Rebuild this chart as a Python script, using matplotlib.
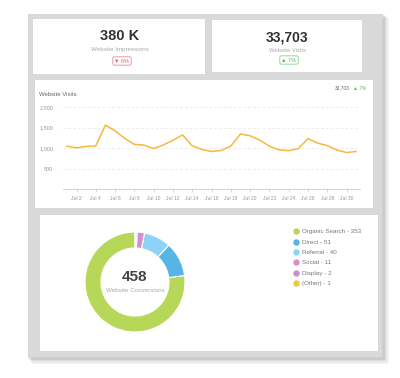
import matplotlib
matplotlib.use('Agg')
import matplotlib.pyplot as plt
from matplotlib.patches import Rectangle
from matplotlib.lines import Line2D

plt.rcParams['font.family'] = ['Liberation Sans', 'DejaVu Sans']

W, H = 400, 378

# ---- data ----
impressions_value = "380 K"
impressions_label = "Website Impressions"
impressions_change = "▼ 6%"
visits_value = "33,703"
visits_label = "Website Visits"
visits_change = "▲ 7%"

chart_title = "Website Visits"
chart_total = "33,703"
chart_change = "▲ 7%"

days = list(range(1, 32))
visits = [1045, 1005, 1040, 1050, 1560, 1420, 1235, 1090, 1070, 985, 1075,
          1190, 1320, 1055, 965, 915, 940, 1045, 1340, 1300, 1195, 1045,
          955, 935, 985, 1230, 1120, 1060, 950, 890, 915]
x_tick_days = [2, 4, 6, 8, 10, 12, 14, 16, 18, 20, 22, 24, 26, 28, 30]
x_tick_labels = ["Jul 2", "Jul 4", "Jul 6", "Jul 8", "Jul 10", "Jul 12",
                 "Jul 14", "Jul 16", "Jul 18", "Jul 20", "Jul 22", "Jul 24",
                 "Jul 26", "Jul 28", "Jul 30"]
y_ticks = [500, 1000, 1500, 2000]
y_tick_labels = ["500", "1,000", "1,500", "2,000"]

channels = ["Organic Search", "Direct", "Referral", "Social", "Display", "(Other)"]
conversions = [353, 51, 40, 11, 2, 1]
channel_colors = ["#b6d758", "#55b5e3", "#8dd3f8", "#d78fc9", "#cf8bd0", "#f3c63b"]
total_conversions = "458"
conversions_label = "Website Conversions"

# ---- figure ----
fig = plt.figure(figsize=(4, 3.78), dpi=100)
fig.patch.set_facecolor('white')


def box(x0, y0, x1, y1):
    return (x0 / W, 1 - y1 / H, (x1 - x0) / W, (y1 - y0) / H)


def rect(x0, y0, x1, y1, **kw):
    l, b, w, h = box(x0, y0, x1, y1)
    fig.patches.append(Rectangle((l, b), w, h, transform=fig.transFigure, **kw))


def ftext(x, y, s, **kw):
    fig.text(x / W, 1 - y / H, s, **kw)


# shadow of dashboard frame
for i, a in enumerate([0.05, 0.07, 0.09, 0.12]):
    o = 7 - i * 1.5
    rect(28 + o * 0.5, 14 + o * 0.5, 382 + o, 357 + o, facecolor='#555555',
         alpha=a, edgecolor='none', zorder=0)
rect(28, 14, 382, 357, facecolor='#d9d9d9', edgecolor='#cfcfcf', lw=0.5, zorder=1)

# cards
rect(33, 19, 205, 74, facecolor='white', edgecolor='none', zorder=2)
rect(212, 20, 362, 72, facecolor='white', edgecolor='none', zorder=2)
rect(35, 80, 373, 208, facecolor='white', edgecolor='none', zorder=2)
rect(40, 215, 378, 351, facecolor='white', edgecolor='none', zorder=2)

# KPI 1
ftext(120, 36, impressions_value, ha='center', va='center', fontsize=10.5,
      fontweight='bold', color='#333333', zorder=5)
ftext(120, 50, impressions_label, ha='center', va='center', fontsize=4.5,
      color='#aaaaaa', zorder=5)
ftext(122, 61, impressions_change, ha='center', va='center', fontsize=4,
      color='#e0606a', zorder=5,
      bbox=dict(boxstyle='round,pad=0.3,rounding_size=0.3', fc='white',
                ec='#e58a90', lw=0.6))

# KPI 2
ftext(287, 37, visits_value, ha='center', va='center', fontsize=10,
      fontweight='bold', color='#333333', zorder=5)
ftext(288, 50, visits_label, ha='center', va='center', fontsize=4.2,
      color='#aaaaaa', zorder=5)
ftext(289, 60, visits_change, ha='center', va='center', fontsize=4,
      color='#5cb85c', zorder=5,
      bbox=dict(boxstyle='round,pad=0.3,rounding_size=0.3', fc='white',
                ec='#8fd08f', lw=0.6))

# line chart
ftext(39, 95, chart_title, ha='left', va='center', fontsize=4.3,
      color='#666666', zorder=5)
ftext(350, 88, chart_total, ha='right', va='center', fontsize=3.5,
      color='#666666', zorder=5)
ftext(353, 88, chart_change, ha='left', va='center', fontsize=3.5,
      color='#5cb85c', zorder=5)

ax = fig.add_axes(box(63, 105, 360, 189))
ax.set_zorder(3)
ax.patch.set_alpha(0)
ax.plot(days, visits, color='#f5b93e', lw=1.1, solid_joinstyle='round')
ax.set_xlim(0.6, 31.4)
ax.set_ylim(0, 2050)
ax.set_yticks(y_ticks)
ax.set_yticklabels(y_tick_labels)
ax.set_xticks(x_tick_days)
ax.set_xticklabels(x_tick_labels)
ax.grid(axis='y', color='#e4e4e4', lw=0.5, ls=(0, (4, 3)))
ax.tick_params(axis='y', length=0, labelsize=4, labelcolor='#999999', pad=7)
ax.tick_params(axis='x', length=2, width=0.5, color='#cccccc', labelsize=3.6,
               labelcolor='#999999', pad=3)
for s in ['top', 'right', 'left']:
    ax.spines[s].set_visible(False)
ax.spines['bottom'].set_color('#cccccc')
ax.spines['bottom'].set_linewidth(0.6)

# donut
pax = fig.add_axes(box(85, 232, 185, 332))
pax.set_zorder(3)
pax.pie(conversions, colors=channel_colors, startangle=90, counterclock=True,
        wedgeprops=dict(width=0.32, edgecolor='white', linewidth=0.8))
pax.set_xlim(-1, 1)
pax.set_ylim(-1, 1)
pax.set_aspect('equal')
pax.axis('off')
ftext(135, 277, total_conversions, ha='center', va='center', fontsize=11,
      fontweight='bold', color='#444444', zorder=6)
ftext(135, 290, conversions_label, ha='center', va='center', fontsize=4.5,
      color='#aaaaaa', zorder=6)

handles = [Line2D([], [], marker='o', ls='', markersize=3.6,
                  markerfacecolor=c, markeredgecolor=c) for c in channel_colors]
labels = [f"{n} - {v}" for n, v in zip(channels, conversions)]
leg = fig.legend(handles, labels, loc='upper left',
                 bbox_to_anchor=(294 / W, 1 - 229 / H), frameon=False,
                 fontsize=4.5, labelcolor='#777777', handlelength=0.6,
                 handletextpad=0.6, labelspacing=0.8, borderpad=0,
                 borderaxespad=0)
leg.set_zorder(6)

fig.savefig('out.png', dpi=100, facecolor='white')
